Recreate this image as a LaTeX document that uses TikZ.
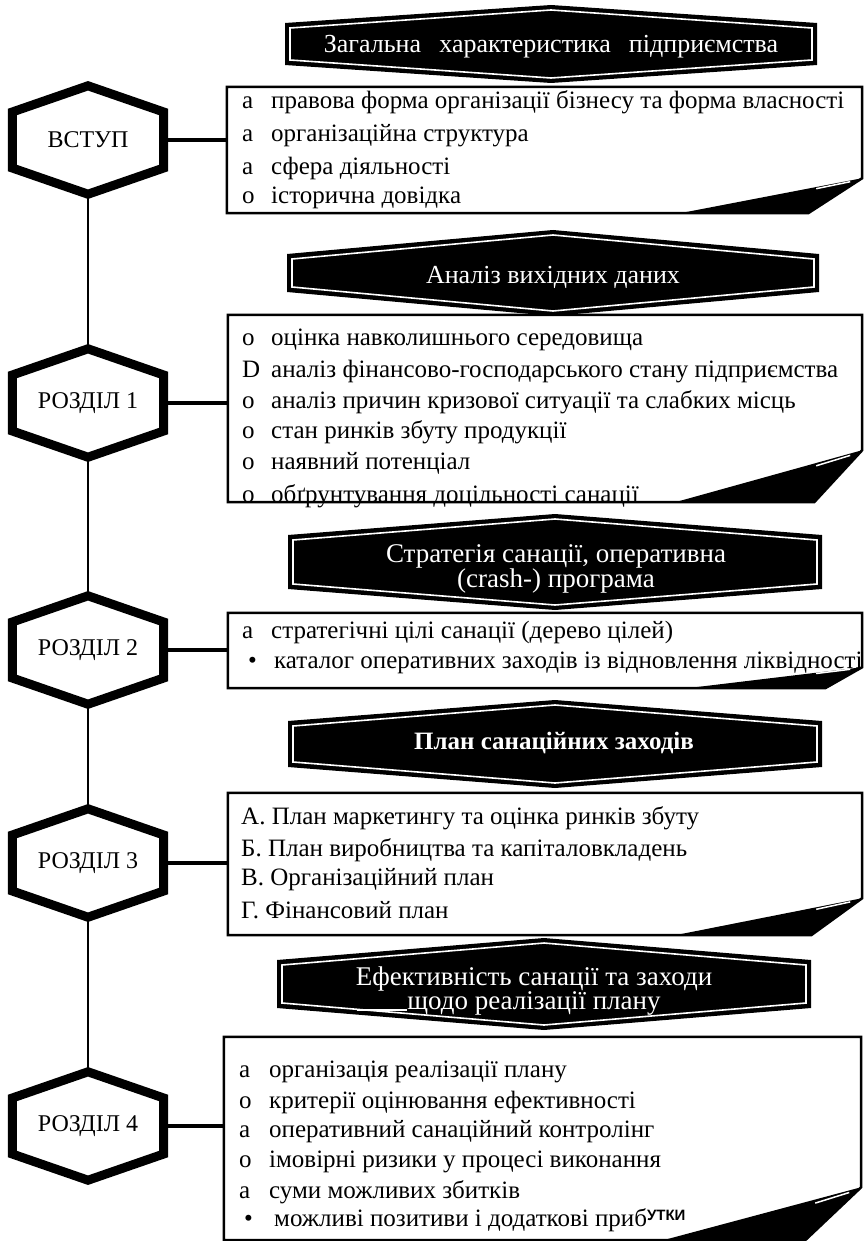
\documentclass[tikz,border=0pt]{standalone}
\usepackage{fontspec}
\setmainfont{Liberation Serif}
\setsansfont{Liberation Sans}
\usetikzlibrary{calc}
\tikzset{
  font=\fontsize{24}{28}\selectfont,
  %
  hexnode/.style={minimum width=151pt, minimum height=108pt, inner sep=0pt},
  hexline/.style={line width=9pt, line join=miter},
  %
  card/.style={draw=none, inner sep=0pt},
  cardline/.style={line width=2.5pt},
  item/.style={anchor=west, inner sep=0pt, font=\fontsize{25}{28}\selectfont},
  %
  banner/.style={text=white, align=center, inner sep=0pt,
                 font=\fontsize{26}{22}\selectfont},
  ribbonedge/.style={draw=white, line width=1.6pt},
  %
  link/.style={line width=3.5pt},
  spine/.style={line width=2.5pt},
}

\begin{document}
\begin{tikzpicture}[x=1pt, y=-1pt]
  \useasboundingbox (0,0) rectangle (867,1241);

  % section hexagons
  \node[hexnode] (vstup) at (88,140)  {ВСТУП};
  \node[hexnode] (r1)    at (88,403)  {РОЗДІЛ 1};
  \node[hexnode] (r2)    at (88,650)  {РОЗДІЛ 2};
  \node[hexnode] (r3)    at (88,863)  {РОЗДІЛ 3};
  \node[hexnode] (r4)    at (88,1126) {РОЗДІЛ 4};

  % content cards
  \node[card, minimum width=635pt, minimum height=126pt] (b1) at (544.5,150)  {};
  \node[card, minimum width=634pt, minimum height=187pt] (b2) at (545,408.5)  {};
  \node[card, minimum width=634pt, minimum height=75pt]  (b3) at (545,650.5)  {};
  \node[card, minimum width=634pt, minimum height=142pt] (b4) at (545,864)    {};
  \node[card, minimum width=637pt, minimum height=203pt] (b5) at (542.5,1138.5) {};

  \foreach \y/\p/\t in {102/а/правова форма організації бізнесу та форма власності,
                        136/а/організаційна структура,
                        168/а/сфера діяльності,
                        198/о/історична довідка}
    \node[item] (b1i\y) at (242,\y) {\makebox[29pt][l]{\p}\t};

  \foreach \y/\p/\t in {340/о/оцінка навколишнього середовища,
                        372/D/аналіз фінансово-господарського стану підприємства,
                        402/о/аналіз причин кризової ситуації та слабких місць,
                        432/о/стан ринків збуту продукції,
                        463/о/наявний потенціал,
                        496/о/обґрунтування доцільності санації}
    \node[item] (b2i\y) at (242,\y) {\makebox[29pt][l]{\p}\t};

  \node[item] (b3i1) at (242,632) {\makebox[29pt][l]{а}стратегічні цілі санації (дерево цілей)};
  \node[item] (b3i2) at (248,663) {\makebox[26pt][l]{•}каталог оперативних заходів із відновлення ліквідності};

  \foreach \y/\t in {818/А. План маркетингу та оцінка ринків збуту,
                     850/Б. План виробництва та капіталовкладень,
                     880/В. Організаційний план,
                     910/Г. Фінансовий план}
    \node[item] (b4i\y) at (241,\y) {\t};

  \foreach \y/\p/\t in {1072/а/організація реалізації плану,
                        1102/о/критерії оцінювання ефективності,
                        1132/а/оперативний санаційний контролінг,
                        1162/о/імовірні ризики у процесі виконання,
                        1192/а/суми можливих збитків}
    \node[item] (b5i\y) at (239,\y) {\makebox[30pt][l]{\p}\t};
  \node[item] (b5i1220) at (244,1220)
    {\makebox[30pt][l]{•}можливі позитиви і додаткові приб\raisebox{6pt}{\sffamily\bfseries\fontsize{15}{15}\selectfont УТКИ}};

  % card outlines with the curled corner
  \foreach \n/\ch/\cw/\ws in {b1/35/54/182, b2/52/48/187, b3/21/37/175,
                              b4/37/51/187, b5/53/56/198} {
    \draw[cardline] (\n.north west) -- (\n.north east) -- ($(\n.south east)+(0,-\ch)$)
      -- ($(\n.south east)+(-\cw,0)$) -- (\n.south west) -- cycle;
    \fill ($(\n.south east)+(-\ws,0)$) -- ($(\n.south east)+(-\cw,0)$)
      -- ($(\n.south east)+(0,-\ch)$) -- cycle;
    \draw[white, line width=1.5pt] ($(\n.south east)+(-12,-0.9*\ch)$)
      -- ($(\n.south east)+(-46,-0.7*\ch)$);
  }

  % spine and links
  \draw[spine] (vstup.south) -- (r1.north);
  \draw[spine] (r1.south) -- (r2.north);
  \draw[spine] (r2.south) -- (r3.north);
  \draw[spine] (r3.south) -- (r4.north);
  \foreach \h/\b in {vstup/b1, r1/b2, r2/b3, r3/b4, r4/b5}
    \draw[link] (\h.east) -- (\h.east -| \b.west);

  \foreach \n in {vstup,r1,r2,r3,r4}
    \draw[hexline] (\n.north) -- ($(\n.east)+(0,-28)$) -- ($(\n.east)+(0,28)$)
      -- (\n.south) -- ($(\n.west)+(0,28)$) -- ($(\n.west)+(0,-28)$) -- cycle;

  % heading ribbons
  \foreach \n/\cx/\cy/\w/\hh/\s in {h1/551/44/266/39/21, h2/553/273/266/43/19,
                                   h3/555/562/267/48/27, h4/555/744/267/44/23,
                                   h5/544/984/267/46/24} {
    \coordinate (\n) at (\cx,\cy);
    \fill ($(\n)+(0,-\hh)$) -- ($(\n)+(\w,-\s)$) -- ($(\n)+(\w,\s)$) -- ($(\n)+(0,\hh)$)
      -- ($(\n)+(-\w,\s)$) -- ($(\n)+(-\w,-\s)$) -- cycle;
    \draw[ribbonedge] ($(\n)+(0,-\hh+5)$) -- ($(\n)+(\w-5,-\s+5)$) -- ($(\n)+(\w-5,\s-5)$)
      -- ($(\n)+(0,\hh-5)$) -- ($(\n)+(-\w+5,\s-5)$) -- ($(\n)+(-\w+5,-\s+5)$) -- cycle;
  }
  \node[banner] (t1) at (551,47) {Загальна\hspace{0.7em}характеристика\hspace{0.7em}підприємства};
  \node[banner] (t2) at (553,277) {Аналіз вихідних даних};
  \node[banner, font=\fontsize{27}{22}\selectfont] (t3) at (556,569)
    {Стратегія санації, оперативна\\(crash-) програма};
  \node[banner, font=\fontsize{25}{22}\selectfont\bfseries] (t4) at (554,743) {План санаційних заходів};
  \node[banner, font=\fontsize{27}{22}\selectfont] (t5) at (534,991)
    {Ефективність санації та заходи\\\llap{\rule[-1pt]{50pt}{1.5pt}}щодо реалізації плану};

\end{tikzpicture}
\end{document}
